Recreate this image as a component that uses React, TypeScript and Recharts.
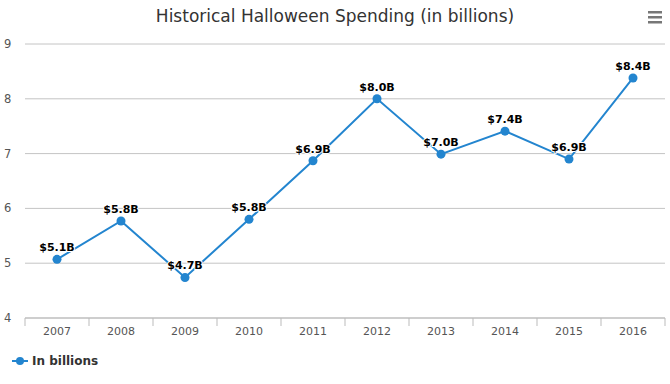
import { LineChart, Line, XAxis, YAxis, CartesianGrid, LabelList } from 'recharts'

const years = ['2007', '2008', '2009', '2010', '2011', '2012', '2013', '2014', '2015', '2016']
const spending = [5.07, 5.77, 4.74, 5.8, 6.87, 8.0, 6.99, 7.41, 6.9, 8.38]
const yTicks = [4, 5, 6, 7, 8, 9]

const data = years.map((year, i) => ({ year, value: spending[i] }))

const FONT = '"DejaVu Sans", "Lucida Grande", Arial, sans-serif'
const BLUE = '#2385cf'
const HALF_BAND = 32

const YTick = ({ y, payload }: any) => (
  <text x={4} y={y + 4} fontSize={11.5} fill="#555" fontFamily={FONT}>{payload.value}</text>
)

const XTick = ({ x, y, payload, index, visibleTicksCount }: any) => (
  <g>
    <line x1={x - HALF_BAND} x2={x - HALF_BAND} y1={y} y2={y + 8} stroke="#bbb" />
    {index === visibleTicksCount - 1 && (
      <line x1={x + HALF_BAND} x2={x + HALF_BAND} y1={y} y2={y + 8} stroke="#bbb" />
    )}
    <text x={x} y={y + 17} textAnchor="middle" fontSize={11} fill="#555" fontFamily={FONT}>{payload.value}</text>
  </g>
)

export default function App() {
  return (
    <div style={{ position: 'absolute', left: 0, top: 0, width: 670, height: 384, background: '#fff', fontFamily: FONT }}>
      <div style={{ position: 'absolute', top: 6, left: 0, width: 670, textAlign: 'center', fontSize: 17, color: '#333' }}>
        Historical Halloween Spending (in billions)
      </div>
      <svg style={{ position: 'absolute', left: 648, top: 10 }} width={14} height={14}>
        <rect x={0} y={1} width={14} height={2.5} fill="#777" />
        <rect x={0} y={6} width={14} height={2.5} fill="#777" />
        <rect x={0} y={11} width={14} height={2.5} fill="#777" />
      </svg>
      <LineChart width={670} height={384} data={data} margin={{ top: 44, right: 5, left: 0, bottom: 36 }}>
        <CartesianGrid vertical={false} stroke="#c4c4c4" />
        <XAxis
          dataKey="year"
          height={30}
          padding={{ left: HALF_BAND, right: HALF_BAND }}
          tickLine={false}
          tickSize={0}
          tickMargin={0}
          stroke="#bbb"
          tick={<XTick />}
          interval={0}
        />
        <YAxis width={25} domain={[4, 9]} ticks={yTicks} axisLine={false} tickLine={false} tick={<YTick />} />
        <Line
          dataKey="value"
          stroke={BLUE}
          strokeWidth={2}
          dot={{ r: 4.5, fill: BLUE, stroke: BLUE, strokeWidth: 0 }}
          isAnimationActive={false}
        >
          <LabelList
            dataKey="value"
            position="top"
            offset={8}
            formatter={(v: any) => `$${Number(v).toFixed(1)}B`}
            style={{ fontSize: 11, fontWeight: 'bold', fill: '#000', stroke: '#fff', strokeWidth: 2, paintOrder: 'stroke', fontFamily: FONT }}
          />
        </Line>
      </LineChart>
      <div style={{ position: 'absolute', left: 12, top: 354, display: 'flex', alignItems: 'center', fontSize: 12, fontWeight: 'bold', color: '#333' }}>
        <svg width={16} height={12} style={{ marginRight: 4 }}>
          <line x1={0} x2={16} y1={6} y2={6} stroke={BLUE} strokeWidth={2} />
          <circle cx={8} cy={6} r={4} fill={BLUE} />
        </svg>
        In billions
      </div>
    </div>
  )
}
